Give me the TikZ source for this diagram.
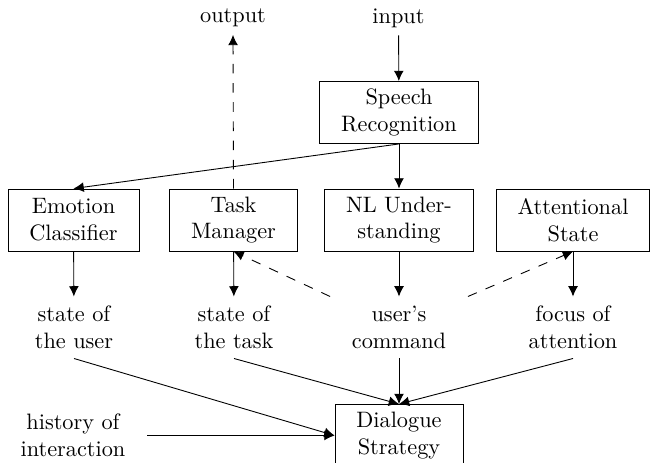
\documentclass[tikz,border=0pt]{standalone}
\usetikzlibrary{arrows.meta}
\begin{document}
\begin{tikzpicture}[x=0.4484pt,y=-0.4484pt,
  module/.style={draw, align=center, inner xsep=9.6pt, inner ysep=3.3pt, minimum height=27.8pt},
  signal/.style={align=center, inner xsep=9.6pt, inner ysep=3.3pt, minimum height=27.4pt},
  flow/.style={-{Latex[length=4.6pt,width=4.4pt]}},
  feedback/.style={flow, dash pattern=on 4.3pt off 4.3pt}]
\useasboundingbox (0,0) rectangle (650,463);

% external input / output
\node (output) at (233,18) {output};
\node (input) at (398.5,18) {input};

% processing modules
\node[module] (speech) at (399,112.5) {Speech\\Recognition};
\node[module] (emotion) at (73.5,220) {Emotion\\Classifier};
\node[module] (task) at (233.5,220) {Task\\Manager};
\node[module] (nlu) at (399,220) {NL Under-\\standing};
\node[module] (attn) at (573,220) {Attentional\\State};
\node[module] (dialogue) at (399,435.5) {Dialogue\\Strategy};

% intermediate information
\node[signal] (userstate) at (74,327.5) {state of\\the user};
\node[signal] (taskstate) at (234,327.5) {state of\\the task};
\node[signal] (command) at (399,327.5) {user's\\command};
\node[signal] (focus) at (573,327.5) {focus of\\attention};
\node[signal] (history) at (73,435.5) {history of\\interaction};

% connections
\draw[flow] (input) -- (speech);
\draw[flow] (speech.south) -- (emotion.north);
\draw[flow] (speech.south) -- (nlu.north);
\draw[feedback] (task.north) -- (output.south);

\draw[flow] (emotion) -- (userstate);
\draw[flow] (task) -- (taskstate);
\draw[flow] (nlu) -- (command);
\draw[flow] (attn) -- (focus);

\draw[feedback] (command.north west) -- (task.south);
\draw[feedback] (command.north east) -- (attn.south);

\draw[flow] (userstate.south) -- (dialogue.west);
\draw[flow] (history.east) -- (dialogue.west);
\draw[flow] (taskstate.south) -- (dialogue.north);
\draw[flow] (command.south) -- (dialogue.north);
\draw[flow] (focus.south) -- (dialogue.north);
\end{tikzpicture}
\end{document}
